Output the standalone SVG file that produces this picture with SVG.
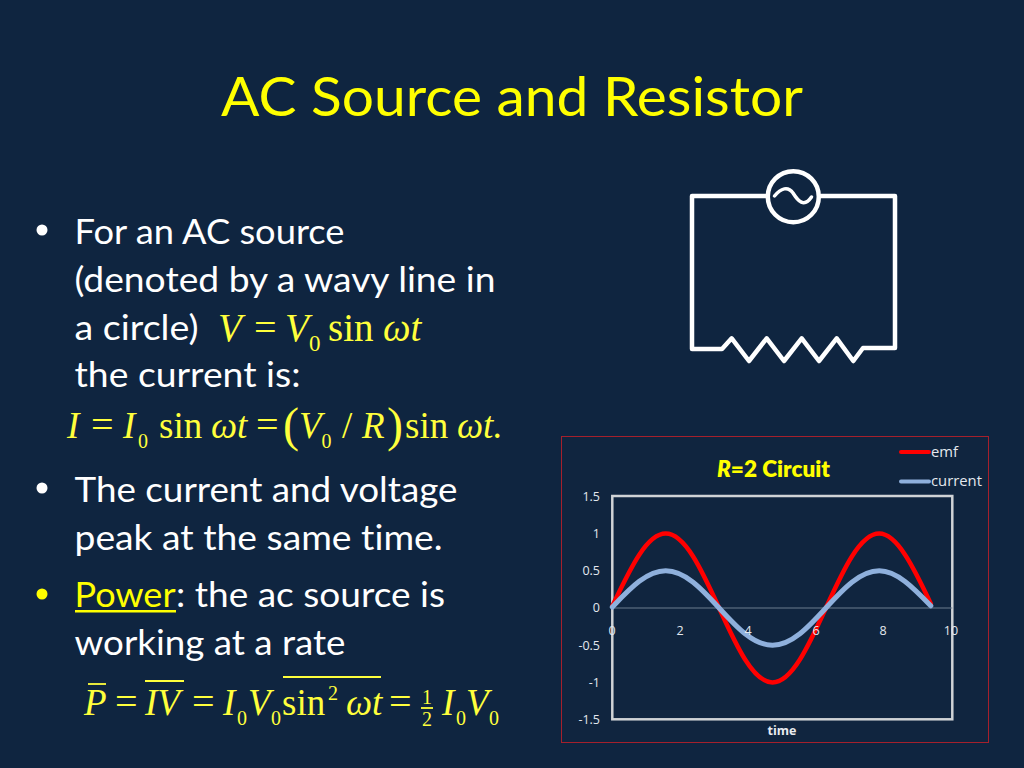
<svg xmlns="http://www.w3.org/2000/svg" width="1024" height="768" viewBox="0 0 1024 768">
<style>
text{font-variant-ligatures:none}
.t{font-family:"Lato",sans-serif;font-size:34px;fill:#fff}
.m{font-family:"Liberation Serif",serif;fill:#ffff3c;font-size:37px}
.q{font-size:40px}
.e1{font-size:39px}
.i{font-style:italic}
.s{font-size:20px}
.s1{font-size:23px}
.w{fill:none;stroke:#fff;stroke-width:4.5;stroke-linejoin:round;stroke-linecap:round}
.a{font-family:"Open Sans",sans-serif;font-size:12.5px;fill:#e4e8ee;text-anchor:end}
.x{font-family:"Open Sans",sans-serif;font-size:12.5px;fill:#e4e8ee;text-anchor:middle}
.o{stroke:#ffff3c;stroke-width:1.8}
</style>
<rect width="1024" height="768" fill="#0f2540"/>
<text x="221" y="115.500" font-family="Lato,sans-serif" font-size="55" fill="#ffff00" textLength="582" lengthAdjust="spacingAndGlyphs">AC Source and Resistor</text>
<g id="bullets">
<circle cx="42" cy="230" r="5.500" fill="#fff"/>
<circle cx="42" cy="488" r="5.500" fill="#fff"/>
<circle cx="42" cy="594" r="5.500" fill="#ffff00"/>
<text class="t" x="74.500" y="244" textLength="270" lengthAdjust="spacingAndGlyphs">For an AC source</text>
<text class="t" x="74.500" y="292" textLength="421" lengthAdjust="spacingAndGlyphs">(denoted by a wavy line in</text>
<text class="t" x="74.500" y="340" textLength="124" lengthAdjust="spacingAndGlyphs">a circle)</text>
<text class="t" x="74.500" y="387" textLength="226" lengthAdjust="spacingAndGlyphs">the current is:</text>
<text class="t" x="74.500" y="502" textLength="383" lengthAdjust="spacingAndGlyphs">The current and voltage</text>
<text class="t" x="74.500" y="550" textLength="368" lengthAdjust="spacingAndGlyphs">peak at the same time.</text>
<text class="t" x="74.500" y="607" textLength="101" lengthAdjust="spacingAndGlyphs" style="fill:#ffff00">Power</text>
<rect x="75" y="610" width="101" height="2.500" fill="#ffff00"/>
<text class="t" x="176" y="607" textLength="269" lengthAdjust="spacingAndGlyphs">: the ac source is</text>
<text class="t" x="74.500" y="655" textLength="271" lengthAdjust="spacingAndGlyphs">working at a rate</text>
</g>
<g id="eq1">
<text class="m e1 i" x="218" y="341">V</text><text class="m q" x="254" y="341">=</text><text class="m e1 i" x="285" y="341">V</text><text class="m s1" x="309" y="351">0</text><text class="m e1" x="328" y="341">sin</text><text class="m e1 i" x="383" y="341">ωt</text>
</g>
<g id="eq2">
<text class="m i" x="67" y="438">I</text><text class="m q" x="91" y="438">=</text><text class="m i" x="123" y="438">I</text><text class="m s" x="138" y="448">0</text><text class="m" x="159" y="438">sin</text><text class="m i" x="211" y="438">ωt</text><text class="m q" x="256" y="438">=</text>
<text class="m" x="283" y="441" style="font-size:48px">(</text>
<text class="m i" x="299" y="438">V</text><text class="m s" x="321.500" y="448">0</text><text class="m" x="342" y="438">/</text><text class="m i" x="362" y="438">R</text>
<text class="m" x="387" y="441" style="font-size:48px">)</text>
<text class="m" x="405" y="438">sin</text><text class="m i" x="457" y="438">ωt.</text>
</g>
<g id="eq3">
<text class="m i" x="84" y="715">P</text><line class="o" x1="88" y1="684" x2="106" y2="684"/>
<text class="m q" x="115" y="715">=</text>
<text class="m i" x="145" y="715">IV</text><line class="o" x1="145" y1="681" x2="184" y2="681"/>
<text class="m q" x="192" y="715">=</text>
<text class="m i" x="223" y="715">I</text><text class="m s" x="237" y="725">0</text><text class="m i" x="248" y="715">V</text><text class="m s" x="271" y="725">0</text>
<text class="m" x="282" y="715">sin</text><text class="m s" x="328" y="700">2</text><line class="o" x1="283" y1="677" x2="381" y2="677"/>
<text class="m i" x="346" y="715">ωt</text><text class="m q" x="389" y="715">=</text>
<text class="m" x="427" y="704" style="font-size:20px;text-anchor:middle">1</text><line class="o" x1="421" y1="708" x2="433" y2="708" stroke-width="1"/><text class="m" x="427" y="726" style="font-size:20px;text-anchor:middle">2</text>
<text class="m i" x="442" y="715">I</text><text class="m s" x="456" y="725">0</text><text class="m i" x="466" y="715">V</text><text class="m s" x="489" y="725">0</text>
</g>
<g id="connectors">
<path class="w" d="M766 196 L692 196 V349 H722 L731.700 338.300 L749 361 L766.700 338.300 L784 361 L801.700 338.300 L819 361 L836.700 338.300 L853.300 361 L863 348 H895 V196 H821"/>
</g>
<g id="ac-source">
<circle cx="793.300" cy="196.700" r="25.500" fill="none" stroke="#fff" stroke-width="4.500"/>
<path d="M774.500 196 C781 188 788 186 793 193 C798 201 804 208 811.500 197" fill="none" stroke="#fff" stroke-width="3.500" stroke-linecap="round"/>
</g>
<g id="chart">
<rect x="561.500" y="436.500" width="427" height="306" fill="#10253f" stroke="#a5202c" stroke-width="1"/>
<rect x="612.300" y="496" width="340" height="223.300" fill="none" stroke="#d0d3d6" stroke-width="2.500"/>
<line x1="612.300" y1="608" x2="952.300" y2="608" stroke="#6b7c8e" stroke-width="1.200"/>
<text class="a" x="600" y="501">1.5</text><text class="a" x="600" y="538">1</text><text class="a" x="600" y="575">0.5</text><text class="a" x="600" y="612">0</text><text class="a" x="600" y="650">-0.5</text><text class="a" x="600" y="687">-1</text><text class="a" x="600" y="724">-1.5</text>
<path fill="none" stroke="#ff0000" stroke-width="4.500" stroke-linecap="round" d="M612.300 606 c17.400 -36.100 34.100 -72.400 53.400 -72.400 c19.300 0 36 36.300 53.400 74.400 c17.400 38.100 34.100 74.400 53.400 74.400 c19.300 0 36 -36.300 53.400 -74.400 c17.400 -38.100 34.100 -74.400 53.400 -74.400 c17.500 0 34 33 51.500 70"/>
<path fill="none" stroke="#8fb0dc" stroke-width="5" stroke-linecap="round" d="M612.300 607 c17.400 -18.050 34.100 -36.200 53.400 -36.200 c19.300 0 36 18.150 53.400 37.200 c17.400 19.050 34.100 37.200 53.400 37.200 c19.300 0 36 -18.150 53.400 -37.200 c17.400 -19.050 34.100 -37.200 53.400 -37.200 c17.500 0 34 17 51.500 35"/>
<text class="x" x="612" y="635">0</text><text class="x" x="680" y="635">2</text><text class="x" x="748" y="635">4</text><text class="x" x="816" y="635">6</text><text class="x" x="883" y="635">8</text><text class="x" x="951" y="635">10</text>
<text x="717" y="477" font-family="Lato,sans-serif" font-weight="800" font-size="22.500" fill="#ffff00" textLength="113" lengthAdjust="spacingAndGlyphs"><tspan font-style="italic">R</tspan>=2 Circuit</text>
<text x="782" y="735" font-family="Open Sans,sans-serif" font-weight="700" font-size="12.500" fill="#e8ebf0" text-anchor="middle">time</text>
<line x1="901" y1="452" x2="929" y2="452" stroke="#ff0000" stroke-width="4" stroke-linecap="round"/>
<line x1="901" y1="481.500" x2="929" y2="481.500" stroke="#8fb0dc" stroke-width="4" stroke-linecap="round"/>
<text x="931" y="457" font-family="Open Sans,sans-serif" font-size="14.800" fill="#e4e8ee">emf</text>
<text x="931" y="486" font-family="Open Sans,sans-serif" font-size="14.800" fill="#e4e8ee">current</text>
</g>
</svg>
